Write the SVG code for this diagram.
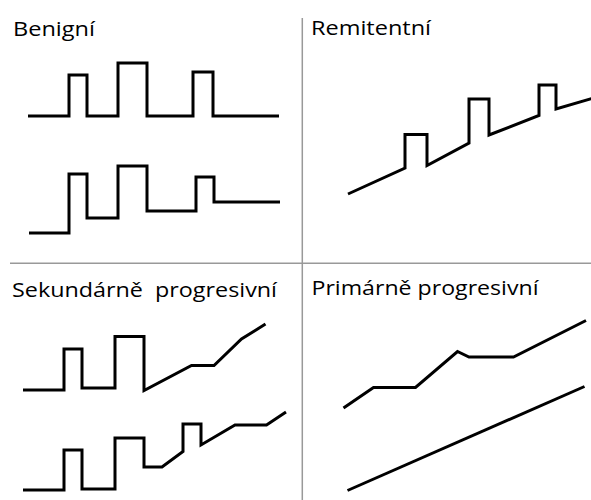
<svg xmlns="http://www.w3.org/2000/svg" width="591" height="500" viewBox="0 0 591 500">
<style>
.lbl{font-family:"Open Sans","Liberation Sans",sans-serif;font-size:19.5px;fill:#000}
.curve{fill:none;stroke:#000;stroke-width:3;stroke-linejoin:miter;stroke-linecap:butt}
.div{stroke:#999;stroke-width:1.5;fill:none}
</style>
<rect width="591" height="500" fill="#fff"/>
<g id="dividers">
<line class="div" x1="302.3" y1="18" x2="302.3" y2="500"/>
<line class="div" x1="10" y1="263.3" x2="591" y2="263.3"/>
</g>
<g id="benigni">
<text class="lbl" x="13" y="36" textLength="82" lengthAdjust="spacingAndGlyphs">Benigní</text>
<path class="curve" d="M28 116 H69 V75 H87 V116 H118 V63 H147 V116 H193 V72 H213 V116 H279"/>
<path class="curve" d="M29 233 H69 V174 H87 V218 H118 V166 H147 V211 H196 V177 H214 V202 H280"/>
</g>
<g id="remitentni">
<text class="lbl" x="311" y="35" textLength="120" lengthAdjust="spacingAndGlyphs">Remitentní</text>
<path class="curve" d="M348 194 L405 168 V134.5 H427 V165.5 L469 143 V99 H489 V135 L539 115.5 V85 H556 V109 L592 98.5"/>
</g>
<g id="sekundarne">
<text class="lbl" x="12" y="296.5" textLength="265" lengthAdjust="spacingAndGlyphs" xml:space="preserve">Sekundárně  progresivní</text>
<path class="curve" d="M23 390 H64 V349 H82 V388 H115 V336.5 H144 V390.5 L191.5 365.5 H214 L241.5 339 L265.5 324"/>
<path class="curve" d="M23 490 H64 V450 H82 V489 H115 V438 H144 V467 H162 L183 451.5 V424 H201 V445 L235 425 H266.5 L286 412"/>
</g>
<g id="primarne">
<text class="lbl" x="311.5" y="295" textLength="227" lengthAdjust="spacingAndGlyphs">Primárně progresivní</text>
<path class="curve" d="M343.5 408 L373.5 387.5 H415.5 L457.5 351.5 L469 357 H513.5 L586 320.5"/>
<path class="curve" d="M347.5 490.5 L584.5 386.5"/>
</g>
</svg>
